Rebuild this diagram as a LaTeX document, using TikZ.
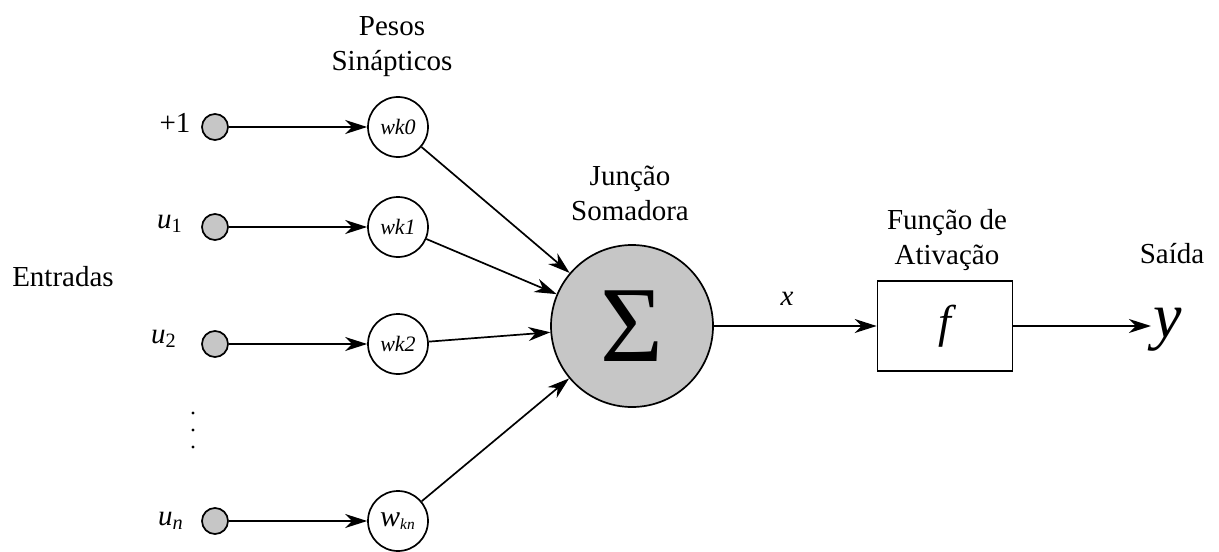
\documentclass[tikz,border=0pt]{standalone}
\usepackage{fontspec}
\setmainfont{Liberation Serif}
\usetikzlibrary{arrows.meta, positioning}

\tikzset{
  inputnode/.style={circle, draw, fill=gray!45, minimum size=13pt, inner sep=0pt},
  weightnode/.style={circle, draw, fill=white, minimum size=30pt, inner sep=0pt,
    font=\fontsize{11}{12}\selectfont\itshape},
  sumnode/.style={circle, draw, fill=gray!45, minimum size=81pt, inner sep=0pt,
    font=\fontsize{54}{56}\selectfont},
  actbox/.style={draw, minimum width=67.5pt, minimum height=45pt, inner sep=0pt,
    font=\fontsize{23}{25}\selectfont\itshape},
  link/.style={-{Stealth[length=11pt, width=7pt, inset=3.5pt]}},
  lbl/.style={font=\fontsize{14.5}{17.5}\selectfont, align=center, inner sep=0pt},
}

\begin{document}
\begin{tikzpicture}[x=0.5pt, y=-0.5pt, line width=0.85pt]
    \useasboundingbox (0,0) rectangle (1219,551);

    % === Inputs ===
    \node[inputnode] (in0) at (215,127) {};
    \node[inputnode] (in1) at (215,227) {};
    \node[inputnode] (in2) at (215,344) {};
    \node[inputnode] (inn) at (215,521) {};
    \node[lbl, anchor=base] (lin0) at (175,133) {+1};
    \node[lbl, anchor=base] (lin1) at (170,228) {\itshape u\textsubscript{\upshape 1}};
    \node[lbl, anchor=base] (lin2) at (164,343) {\itshape u\textsubscript{\upshape 2}};
    \node[lbl, anchor=base] (linn) at (171,525) {\itshape u\textsubscript{n}};
    \foreach \y in {413,430,447}
        \fill (193,\y) circle (0.8pt);
    \node[lbl, anchor=base] (entradas) at (63,286) {Entradas};

    % === Synaptic weights ===
    \node[weightnode] (w0) at (398,127) {wk0};
    \node[weightnode] (w1) at (398,227) {wk1};
    \node[weightnode] (w2) at (398,344) {wk2};
    \node[weightnode] (wn) at (398,521) {{\fontsize{15}{15}\selectfont w}\textsubscript{kn}};
    \node[lbl] (pesos) at (392,47) {Pesos\\Sinápticos};

    \draw[link] (in0) -- (w0);
    \draw[link] (in1) -- (w1);
    \draw[link] (in2) -- (w2);
    \draw[link] (inn) -- (wn);

    % === Summing junction ===
    \node[sumnode] (sum) at (632,326) {Σ};
    \node[lbl] (juncao) at (630,193) {Junção\\Somadora};

    \draw[link] (w0) -- (sum);
    \draw[link] (w1) -- (sum);
    \draw[link] (w2) -- (sum);
    \draw[link] (wn) -- (sum);

    % === Activation function and output ===
    \node[actbox] (act) at (945,326) {f};
    \node[lbl] (funcao) at (947,240) {Função de\\Ativação};
    \draw[link] (sum) -- node[lbl, above=10pt, pos=0.45, font=\fontsize{14.5}{17.5}\selectfont\itshape] (lx) {x} (act);

    \node[anchor=base, inner sep=0pt, font=\fontsize{32}{34}\selectfont\itshape] (out) at (1168,337) {y};
    \draw[link] (act.east) -- ([xshift=-1pt]act.east -| out.west);
    \node[lbl, anchor=base] (saida) at (1172,263) {Saída};

\end{tikzpicture}
\end{document}
